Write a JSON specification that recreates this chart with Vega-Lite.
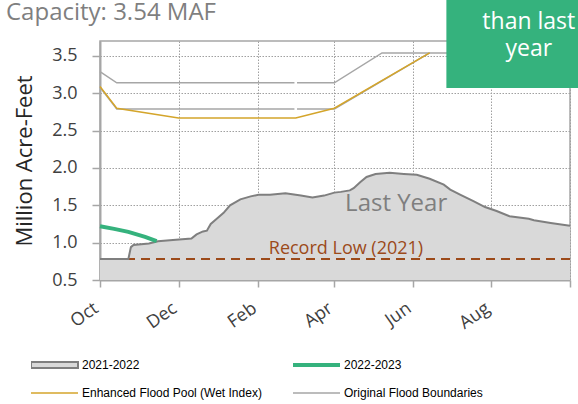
{
  "$schema": "https://vega.github.io/schema/vega-lite/v6.json",
  "width": 470,
  "height": 239,
  "autosize": {"type": "none"},
  "padding": {"left": 100, "top": 41, "right": 8, "bottom": 124},
  "background": "white",
  "config": {
    "view": {"stroke": "#a6a6a6", "strokeWidth": 1.5},
    "axis": {"labelFont": "Open Sans", "titleFont": "Open Sans", "gridColor": "#a0a0a0", "gridDash": [1.5, 1.5], "gridWidth": 1, "domainColor": "#a6a6a6", "domainWidth": 2, "tickColor": "#a6a6a6", "tickWidth": 1.5, "tickSize": 8, "labelColor": "#404040", "titleColor": "#262626", "labelOverlap": false}
  },
  "datasets": {
    "main": [
      {"date": "2021-10-01", "value": 0.78, "series": "2021-2022", "seg": "a"},
      {"date": "2021-10-23", "value": 0.78, "series": "2021-2022", "seg": "a"},
      {"date": "2021-10-25", "value": 0.94, "series": "2021-2022", "seg": "a"},
      {"date": "2021-10-27", "value": 0.97, "series": "2021-2022", "seg": "a"},
      {"date": "2021-11-08", "value": 0.99, "series": "2021-2022", "seg": "a"},
      {"date": "2021-11-15", "value": 1.02, "series": "2021-2022", "seg": "a"},
      {"date": "2021-11-29", "value": 1.04, "series": "2021-2022", "seg": "a"},
      {"date": "2021-12-11", "value": 1.055, "series": "2021-2022", "seg": "a"},
      {"date": "2021-12-15", "value": 1.11, "series": "2021-2022", "seg": "a"},
      {"date": "2021-12-20", "value": 1.15, "series": "2021-2022", "seg": "a"},
      {"date": "2021-12-23", "value": 1.16, "series": "2021-2022", "seg": "a"},
      {"date": "2021-12-26", "value": 1.25, "series": "2021-2022", "seg": "a"},
      {"date": "2021-12-30", "value": 1.31, "series": "2021-2022", "seg": "a"},
      {"date": "2022-01-05", "value": 1.40, "series": "2021-2022", "seg": "a"},
      {"date": "2022-01-10", "value": 1.50, "series": "2021-2022", "seg": "a"},
      {"date": "2022-01-18", "value": 1.58, "series": "2021-2022", "seg": "a"},
      {"date": "2022-01-26", "value": 1.62, "series": "2021-2022", "seg": "a"},
      {"date": "2022-02-01", "value": 1.64, "series": "2021-2022", "seg": "a"},
      {"date": "2022-02-10", "value": 1.64, "series": "2021-2022", "seg": "a"},
      {"date": "2022-02-22", "value": 1.66, "series": "2021-2022", "seg": "a"},
      {"date": "2022-03-06", "value": 1.63, "series": "2021-2022", "seg": "a"},
      {"date": "2022-03-15", "value": 1.605, "series": "2021-2022", "seg": "a"},
      {"date": "2022-03-24", "value": 1.63, "series": "2021-2022", "seg": "a"},
      {"date": "2022-04-01", "value": 1.67, "series": "2021-2022", "seg": "a"},
      {"date": "2022-04-06", "value": 1.68, "series": "2021-2022", "seg": "a"},
      {"date": "2022-04-13", "value": 1.70, "series": "2021-2022", "seg": "a"},
      {"date": "2022-04-16", "value": 1.73, "series": "2021-2022", "seg": "a"},
      {"date": "2022-04-21", "value": 1.81, "series": "2021-2022", "seg": "a"},
      {"date": "2022-04-26", "value": 1.88, "series": "2021-2022", "seg": "a"},
      {"date": "2022-05-03", "value": 1.92, "series": "2021-2022", "seg": "a"},
      {"date": "2022-05-14", "value": 1.935, "series": "2021-2022", "seg": "a"},
      {"date": "2022-05-25", "value": 1.92, "series": "2021-2022", "seg": "a"},
      {"date": "2022-06-04", "value": 1.91, "series": "2021-2022", "seg": "a"},
      {"date": "2022-06-14", "value": 1.856, "series": "2021-2022", "seg": "a"},
      {"date": "2022-06-25", "value": 1.776, "series": "2021-2022", "seg": "a"},
      {"date": "2022-06-30", "value": 1.71, "series": "2021-2022", "seg": "a"},
      {"date": "2022-07-08", "value": 1.64, "series": "2021-2022", "seg": "a"},
      {"date": "2022-07-18", "value": 1.557, "series": "2021-2022", "seg": "a"},
      {"date": "2022-07-27", "value": 1.477, "series": "2021-2022", "seg": "a"},
      {"date": "2022-08-05", "value": 1.424, "series": "2021-2022", "seg": "a"},
      {"date": "2022-08-15", "value": 1.353, "series": "2021-2022", "seg": "a"},
      {"date": "2022-08-30", "value": 1.32, "series": "2021-2022", "seg": "a"},
      {"date": "2022-09-03", "value": 1.30, "series": "2021-2022", "seg": "a"},
      {"date": "2022-09-16", "value": 1.264, "series": "2021-2022", "seg": "a"},
      {"date": "2022-10-01", "value": 1.225, "series": "2021-2022", "seg": "a"},
      {"date": "2021-10-01", "value": 3.09, "series": "Enhanced Flood Pool (Wet Index)", "seg": "e"},
      {"date": "2021-10-14", "value": 2.80, "series": "Enhanced Flood Pool (Wet Index)", "seg": "e"},
      {"date": "2021-12-01", "value": 2.67, "series": "Enhanced Flood Pool (Wet Index)", "seg": "e"},
      {"date": "2022-03-02", "value": 2.67, "series": "Enhanced Flood Pool (Wet Index)", "seg": "e"},
      {"date": "2022-04-01", "value": 2.80, "series": "Enhanced Flood Pool (Wet Index)", "seg": "e"},
      {"date": "2022-06-14", "value": 3.54, "series": "Enhanced Flood Pool (Wet Index)", "seg": "e"},
      {"date": "2021-10-01", "value": 3.29, "series": "Original Flood Boundaries", "seg": "ua"},
      {"date": "2021-10-14", "value": 3.14, "series": "Original Flood Boundaries", "seg": "ua"},
      {"date": "2022-03-01", "value": 3.14, "series": "Original Flood Boundaries", "seg": "ua"},
      {"date": "2022-03-03", "value": 3.14, "series": "Original Flood Boundaries", "seg": "ub"},
      {"date": "2022-04-01", "value": 3.14, "series": "Original Flood Boundaries", "seg": "ub"},
      {"date": "2022-05-08", "value": 3.54, "series": "Original Flood Boundaries", "seg": "ub"},
      {"date": "2022-10-01", "value": 3.54, "series": "Original Flood Boundaries", "seg": "ub"},
      {"date": "2021-10-01", "value": 3.08, "series": "Original Flood Boundaries", "seg": "la"},
      {"date": "2021-10-14", "value": 2.79, "series": "Original Flood Boundaries", "seg": "la"},
      {"date": "2022-03-01", "value": 2.79, "series": "Original Flood Boundaries", "seg": "la"},
      {"date": "2022-03-03", "value": 2.79, "series": "Original Flood Boundaries", "seg": "lb"},
      {"date": "2022-04-01", "value": 2.79, "series": "Original Flood Boundaries", "seg": "lb"},
      {"date": "2022-06-14", "value": 3.54, "series": "Original Flood Boundaries", "seg": "lb"},
      {"date": "2021-10-01", "value": 1.22, "series": "2022-2023", "seg": "g"},
      {"date": "2021-10-12", "value": 1.185, "series": "2022-2023", "seg": "g"},
      {"date": "2021-10-23", "value": 1.145, "series": "2022-2023", "seg": "g"},
      {"date": "2021-11-05", "value": 1.077, "series": "2022-2023", "seg": "g"},
      {"date": "2021-11-14", "value": 1.02, "series": "2022-2023", "seg": "g"}
    ],
    "notes": [
      {"kind": "record", "value": 0.78},
      {"kind": "title", "date": "2021-07-20", "value": 3.976, "label": "Capacity: 3.54 MAF"},
      {"kind": "recordLabel", "date": "2022-04-10", "value": 0.847, "label": "Record Low (2021)"},
      {"kind": "lastYear", "date": "2022-05-19", "value": 1.42, "label": "Last Year"},
      {"kind": "box", "date": "2022-06-27", "date2": "2022-10-08", "value": 3.07, "value2": 4.26},
      {"kind": "boxText", "date": "2022-08-30", "value": 3.856, "label": "than last"},
      {"kind": "boxText", "date": "2022-08-30", "value": 3.5, "label": "year"}
    ]
  },
  "layer": [
    {
      "data": {"name": "main"},
      "transform": [{"filter": "datum.series === '2021-2022'"}],
      "mark": {"type": "area", "fill": "#d9d9d9", "clip": true},
      "encoding": {
        "x": {
          "field": "date", "type": "temporal",
          "scale": {"type": "utc", "domain": [{"year": 2021, "month": 10, "date": 1, "utc": true}, {"year": 2022, "month": 10, "date": 1, "utc": true}]},
          "axis": {
            "title": null,
            "grid": true,
            "tickCount": 20,
            "values": [
              {"year": 2021, "month": 10, "date": 1, "utc": true},
              {"year": 2021, "month": 12, "date": 1, "utc": true},
              {"year": 2022, "month": 2, "date": 1, "utc": true},
              {"year": 2022, "month": 4, "date": 1, "utc": true},
              {"year": 2022, "month": 6, "date": 1, "utc": true},
              {"year": 2022, "month": 8, "date": 1, "utc": true},
              {"year": 2022, "month": 10, "date": 1, "utc": true}
            ],
            "labelExpr": "utcyear(datum.value) == 2022 && utcmonth(datum.value) == 9 ? '' : utcFormat(datum.value, '%b')",
            "labelAngle": -35,
            "labelFontSize": 18,
            "labelPadding": 12,
            "labelOffset": -9,
            "labelFlush": false,
            "tickSize": 7
          }
        },
        "y": {
          "field": "value", "type": "quantitative",
          "scale": {"domain": [0.5, 3.7], "nice": false, "zero": false},
          "axis": {
            "values": [0.5, 1.0, 1.5, 2.0, 2.5, 3.0, 3.5],
            "tickCount": 20,
            "format": ".1f",
            "labelOverlap": false,
            "labelSeparation": 0,
            "labelFontSize": 18,
            "labelPadding": 15,
            "title": "Million Acre-Feet",
            "titleFontSize": 22,
            "titleFontWeight": "normal",
            "titleX": -76,
            "titleY": 119.5,
            "titleAlign": "center",
            "titleBaseline": "middle"
          }
        }
      }
    },
    {
      "data": {"name": "notes"},
      "transform": [{"filter": "datum.kind === 'record'"}],
      "mark": {"type": "rule", "stroke": "#9c4a1a", "strokeWidth": 2, "strokeDash": [9, 6]},
      "encoding": {"y": {"field": "value", "type": "quantitative"}}
    },
    {
      "data": {"name": "main"},
      "transform": [{"filter": "datum.series === '2021-2022'"}],
      "mark": {"type": "line", "strokeWidth": 2, "clip": true},
      "encoding": {
        "x": {"field": "date", "type": "temporal"},
        "y": {"field": "value", "type": "quantitative"},
        "color": {
          "field": "series", "type": "nominal",
          "scale": {"domain": ["2021-2022", "2022-2023", "Enhanced Flood Pool (Wet Index)", "Original Flood Boundaries"], "range": ["#7f7f7f", "#35b27d", "#d4a52b", "#a6a6a6"]},
          "legend": {
            "title": null,
            "orient": "none",
            "legendX": -69,
            "legendY": 318,
            "direction": "horizontal",
            "columns": 2,
            "columnPadding": 31,
            "rowPadding": 16,
            "padding": 0,
            "clipHeight": 12,
            "symbolSize": 2209,
            "symbolType": "stroke",
            "symbolOffset": 0,
            "labelOffset": 2,
            "labelFont": "Liberation Sans",
            "labelFontSize": 12,
            "labelColor": "#000000",
            "labelLimit": 300,
            "encode": {
              "symbols": {
                "update": {
                  "x": {"value": 23.5},
                  "y": {"value": 6},
                  "size": {"value": 2209},
                  "shape": {"signal": "datum.value === '2021-2022' ? 'M-1,-0.13H1V0.13H-1Z' : 'stroke'"},
                  "fill": {"signal": "datum.value === '2021-2022' ? '#d9d9d9' : 'transparent'"},
                  "stroke": {"signal": "datum.value === '2021-2022' ? '#7f7f7f' : datum.value === '2022-2023' ? '#35b27d' : datum.value === 'Original Flood Boundaries' ? '#a6a6a6' : '#d4a52b'"},
                  "strokeWidth": {"signal": "datum.value === '2022-2023' ? 4 : datum.value === '2021-2022' ? 2 : 1.5"},
                  "opacity": {"value": 1}
                }
              },
              "labels": {
                "update": {
                  "x": {"value": 51},
                  "y": {"value": 6}
                }
              }
            }
          }
        }
      }
    },
    {
      "data": {"name": "main"},
      "transform": [{"filter": "datum.series === 'Original Flood Boundaries'"}],
      "mark": {"type": "line", "strokeWidth": 1.5},
      "encoding": {
        "x": {"field": "date", "type": "temporal"},
        "y": {"field": "value", "type": "quantitative"},
        "detail": {"field": "seg"},
        "color": {"field": "series", "type": "nominal", "scale": {"domain": ["2021-2022", "2022-2023", "Enhanced Flood Pool (Wet Index)", "Original Flood Boundaries"], "range": ["#7f7f7f", "#35b27d", "#d4a52b", "#a6a6a6"]}}
      }
    },
    {
      "data": {"name": "main"},
      "transform": [{"filter": "datum.series === 'Enhanced Flood Pool (Wet Index)'"}],
      "mark": {"type": "line", "strokeWidth": 1.5},
      "encoding": {
        "x": {"field": "date", "type": "temporal"},
        "y": {"field": "value", "type": "quantitative"},
        "color": {"field": "series", "type": "nominal", "scale": {"domain": ["2021-2022", "2022-2023", "Enhanced Flood Pool (Wet Index)", "Original Flood Boundaries"], "range": ["#7f7f7f", "#35b27d", "#d4a52b", "#a6a6a6"]}}
      }
    },
    {
      "data": {"name": "main"},
      "transform": [{"filter": "datum.series === '2022-2023'"}],
      "mark": {"type": "line", "strokeWidth": 4},
      "encoding": {
        "x": {"field": "date", "type": "temporal"},
        "y": {"field": "value", "type": "quantitative"},
        "color": {"field": "series", "type": "nominal", "scale": {"domain": ["2021-2022", "2022-2023", "Enhanced Flood Pool (Wet Index)", "Original Flood Boundaries"], "range": ["#7f7f7f", "#35b27d", "#d4a52b", "#a6a6a6"]}}
      }
    },
    {
      "data": {"name": "notes"},
      "transform": [{"filter": "datum.kind === 'title'"}],
      "mark": {"type": "text", "font": "Open Sans", "fontSize": 24, "color": "#7f7f7f", "align": "left", "baseline": "alphabetic"},
      "encoding": {"x": {"field": "date", "type": "temporal"}, "y": {"field": "value", "type": "quantitative"}, "text": {"field": "label"}}
    },
    {
      "data": {"name": "notes"},
      "transform": [{"filter": "datum.kind === 'recordLabel'"}],
      "mark": {"type": "text", "font": "Open Sans", "fontSize": 18, "color": "#9c4a1a", "align": "center", "baseline": "alphabetic"},
      "encoding": {"x": {"field": "date", "type": "temporal"}, "y": {"field": "value", "type": "quantitative"}, "text": {"field": "label"}}
    },
    {
      "data": {"name": "notes"},
      "transform": [{"filter": "datum.kind === 'lastYear'"}],
      "mark": {"type": "text", "font": "Open Sans", "fontSize": 24, "color": "#7f7f7f", "align": "center", "baseline": "alphabetic"},
      "encoding": {"x": {"field": "date", "type": "temporal"}, "y": {"field": "value", "type": "quantitative"}, "text": {"field": "label"}}
    },
    {
      "data": {"name": "notes"},
      "transform": [{"filter": "datum.kind === 'box'"}],
      "mark": {"type": "rect", "fill": "#35b27d"},
      "encoding": {
        "x": {"field": "date", "type": "temporal"},
        "x2": {"field": "date2"},
        "y": {"field": "value", "type": "quantitative"},
        "y2": {"field": "value2"}
      }
    },
    {
      "data": {"name": "notes"},
      "transform": [{"filter": "datum.kind === 'boxText'"}],
      "mark": {"type": "text", "font": "Open Sans", "fontSize": 23, "color": "#ffffff", "align": "center", "baseline": "alphabetic"},
      "encoding": {"x": {"field": "date", "type": "temporal"}, "y": {"field": "value", "type": "quantitative"}, "text": {"field": "label"}}
    }
  ]
}
